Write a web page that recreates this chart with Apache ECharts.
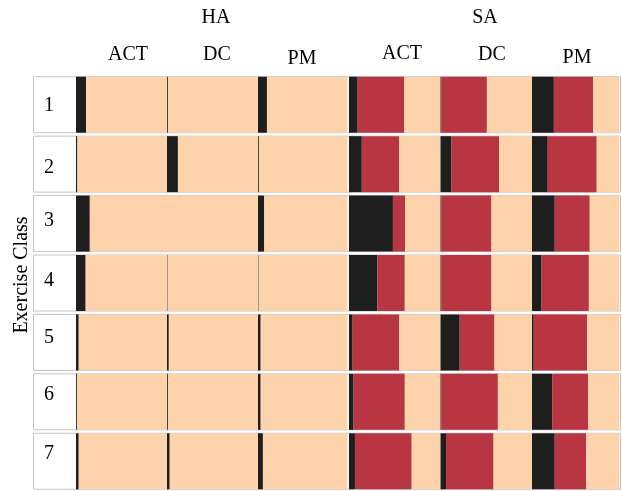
<!DOCTYPE html>
<html>
<head>
<meta charset="utf-8">
<script src="https://cdn.jsdelivr.net/npm/echarts@6/dist/echarts.min.js"></script>
<style>
html,body{margin:0;padding:0;background:#fff;}
#chart{width:622px;height:491px;}
</style>
</head>
<body>
<div id="chart"></div>
<script>
// ---- data (percent of each cell) ----
const rows = ['1', '2', '3', '4', '5', '6', '7'];
const groups = ['HA', 'SA'];
const measures = ['ACT', 'DC', 'PM'];

const haActBlack = [11, 1.5, 15, 10, 3, 1, 3];
const haActRed   = [0, 0, 0.8, 0.8, 0, 0, 0];
const haActPeach = [89, 98.5, 84.2, 89.2, 97, 99, 97];

const haDcBlack = [1, 12, 0, 0.7, 2, 1, 3];
const haDcRed   = [0, 0, 0, 0, 0, 0, 0];
const haDcPeach = [99, 88, 100, 99.3, 98, 99, 97];

const haPmBlack = [10, 1, 7, 0.7, 3, 3, 5.5];
const haPmRed   = [0, 0, 0, 0, 0, 0, 0];
const haPmPeach = [90, 99, 93, 99.3, 97, 97, 94.5];

const saActBlack = [9.5, 14, 48, 31, 4, 5, 6.5];
const saActRed   = [51, 41, 13.5, 30, 51, 56, 62];
const saActPeach = [39.5, 45, 38.5, 39, 45, 39, 31.5];

const saDcBlack = [0.7, 12, 0.7, 0.7, 21, 0.7, 6];
const saDcRed   = [50, 52, 55, 55, 38, 62, 52];
const saDcPeach = [49.3, 36, 44.3, 44.3, 41, 37.3, 42];

const saPmBlack = [25, 18, 26, 11, 2, 23, 26];
const saPmRed   = [45, 56, 40, 54, 61, 41, 36];
const saPmPeach = [30, 26, 34, 35, 37, 36, 38];

const frameValues = [1, 1, 1, 1, 1, 1, 1];

// ---- layout / style ----
const cells = [
  {black: haActBlack, red: haActRed, peach: haActPeach, left: 76,   width: 91},
  {black: haDcBlack,  red: haDcRed,  peach: haDcPeach,  left: 167,  width: 91},
  {black: haPmBlack,  red: haPmRed,  peach: haPmPeach,  left: 258,  width: 89.5},
  {black: saActBlack, red: saActRed, peach: saActPeach, left: 349,  width: 91.5},
  {black: saDcBlack,  red: saDcRed,  peach: saDcPeach,  left: 440.5,width: 91.5},
  {black: saPmBlack,  red: saPmRed,  peach: saPmPeach,  left: 532,  width: 87.5}
];
const COL_BLACK = '#1e1e1e', COL_RED = '#b83542', COL_PEACH = '#fdd3ab';
const FONT = 'Liberation Serif';
const GRID_TOP = 75, GRID_H = 420;
const labelShift = [1, 4, -3, -2, -5, -7, -8];

const grid = [], xAxis = [], yAxis = [], series = [];
// frame grid (row boxes + row labels)
grid.push({left: 33, width: 588, top: GRID_TOP, height: GRID_H});
xAxis.push({type: 'value', gridIndex: 0, min: 0, max: 1, show: false});
const rich = {};
labelShift.forEach((s, i) => {
  rich['r' + i] = {fontFamily: FONT, fontSize: 20, color: '#000',
    padding: s >= 0 ? [2 * s, 0, 0, 0] : [0, 0, -2 * s, 0]};
});
yAxis.push({type: 'category', gridIndex: 0, data: rows, inverse: true,
  axisLine: {show: false}, axisTick: {show: false}, splitLine: {show: false},
  axisLabel: {inside: true, align: 'center', margin: 16,
    formatter: (v, i) => '{r' + i + '|' + v + '}', rich: rich}, z: 10});
series.push({type: 'bar', xAxisIndex: 0, yAxisIndex: 0, data: frameValues,
  barWidth: 57, silent: true,
  itemStyle: {color: '#fff', borderColor: '#c4c4c4', borderWidth: 1}});

cells.forEach((c, k) => {
  const gi = k + 1;
  grid.push({left: c.left, width: c.width, top: GRID_TOP, height: GRID_H});
  xAxis.push({type: 'value', gridIndex: gi, min: 0, max: 100, show: false});
  yAxis.push({type: 'category', gridIndex: gi, data: rows, inverse: true, show: false});
  [['black', COL_BLACK], ['red', COL_RED], ['peach', COL_PEACH]].forEach(([key, col]) => {
    series.push({type: 'bar', xAxisIndex: gi, yAxisIndex: gi, stack: 'c' + k,
      data: c[key], barWidth: 56, silent: true, itemStyle: {color: col}});
  });
});

const headers = [
  {t: groups[0], x: 216, y: 18}, {t: groups[1], x: 485, y: 18},
  {t: measures[0], x: 128, y: 55}, {t: measures[1], x: 217, y: 55}, {t: measures[2], x: 302, y: 58.5},
  {t: measures[0], x: 402, y: 54}, {t: measures[1], x: 492, y: 55}, {t: measures[2], x: 577, y: 58}
];
const graphic = headers.map(h => ({type: 'text', x: h.x, y: h.y,
  style: {text: h.t, font: '20px "' + FONT + '"', fill: '#000', textAlign: 'center', textVerticalAlign: 'middle'}}));
graphic.push({type: 'text', x: 22, y: 275, rotation: Math.PI / 2,
  style: {text: 'Exercise Class', font: '20px "' + FONT + '"', fill: '#000', textAlign: 'center', textVerticalAlign: 'middle'}});

const chart = echarts.init(document.getElementById('chart'));
chart.setOption({animation: false, backgroundColor: '#fff', grid, xAxis, yAxis, series, graphic});
</script>
</body>
</html>
